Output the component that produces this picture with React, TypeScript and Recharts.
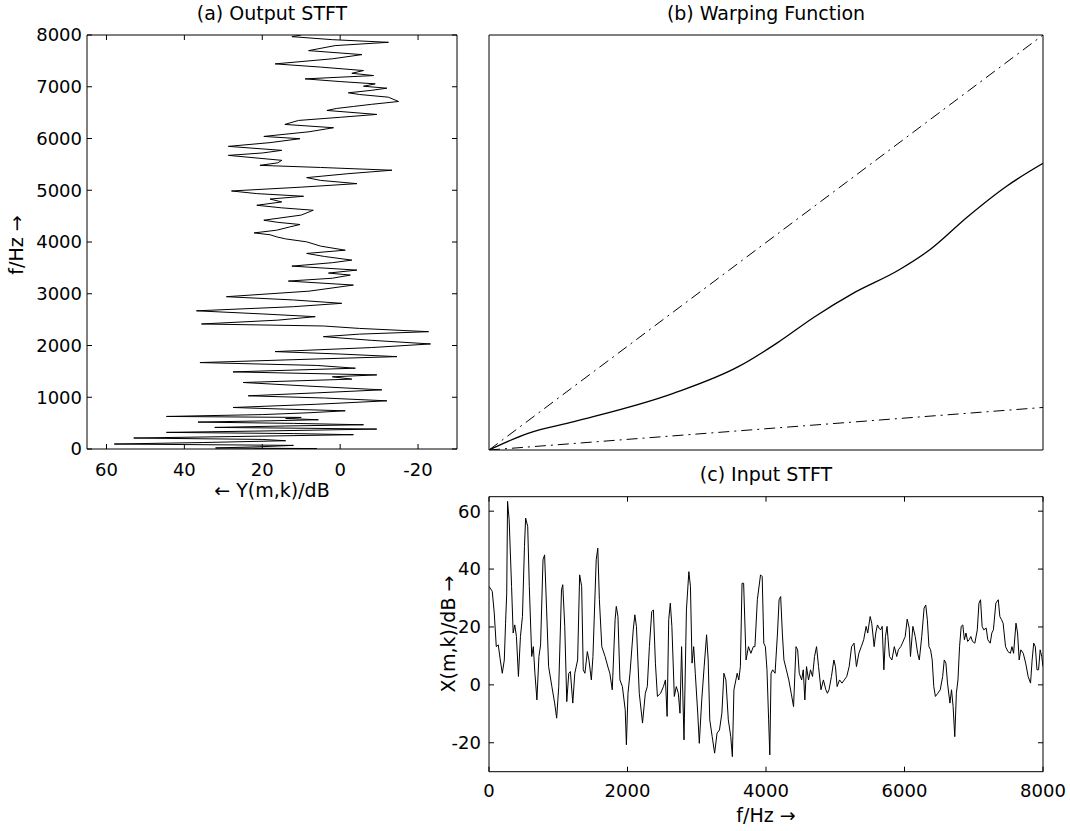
import { ScatterChart, Scatter, XAxis, YAxis } from "recharts";

// (a) output STFT: frequency (Hz) vs level (dB), drawn sideways
const outFreq = [
  0, 8, 20, 45, 70, 96, 125, 160, 185, 212, 240, 276, 298, 321, 350, 385, 400, 417, 445, 468,
  495, 520, 545, 565, 590, 610, 629, 665, 700, 738, 770, 802, 865, 931, 985, 1028, 1085, 1143,
  1215, 1285, 1350, 1395, 1432, 1490, 1561, 1615, 1670, 1735, 1785, 1835, 1882, 1960, 2030,
  2100, 2171, 2220, 2267, 2330, 2377, 2416, 2490, 2557, 2610, 2670, 2750, 2815, 2880, 2943,
  3050, 3168, 3245, 3300, 3361, 3400, 3457, 3534, 3600, 3650, 3720, 3779, 3842, 3920, 4003,
  4060, 4099, 4140, 4176, 4228, 4290, 4338, 4380, 4421, 4520, 4614, 4660, 4710, 4774, 4830,
  4884, 4935, 4986, 5060, 5128, 5190, 5244, 5320, 5387, 5440, 5481, 5530, 5578, 5674, 5720,
  5771, 5848, 5920, 5996, 6040, 6130, 6208, 6272, 6349, 6410, 6465, 6542, 6580, 6619, 6660,
  6715, 6798, 6850, 6883, 6930, 6972, 7010, 7056, 7100, 7152, 7216, 7260, 7313, 7380, 7442,
  7540, 7621, 7698, 7795, 7859, 7910, 7968, 8000,
];
const outDb = [
  22, 6, 32, 20, 12, 58, 35, 14, 20, 53, 28, -3.4, 12, 44.6, 18, -9.4, 8, 32.2, 14, -6,
  12, 36.5, 18, 5.6, 14, 10, 44.6, 20, 8, -1.3, 14, 27.5, 6, -12, 4, 23.6, 6, -10.7,
  8, 24.9, -3, 2, -9.4, 27.5, -3.9, 6, 36, 8, -14.6, 0, 16.7, -8, -23.2,
  -8, 4.3, -5, -22.7, -5, 4.3, 35.6, 16, 6.4, 20, 36.9, 12, -0.4, 12, 29.2,
  8, -3.4, 13.3, 2, -2.6, 3, -4.3, 12.4, 2, -3, 4, 8.6, -1.3, 5, 8.6,
  14, 16.3, 18, 22.1, 16.3, 13, 10.3, 16, 19.6, 10, 6.9, 15, 21.4, 15, 18,
  9.4, 21.4, 27.9, 10, -4.3, 5, 8.6, -2, -13.3, 5, 20.6, 16, 15, 28.7, 20,
  15, 28.7, 18, 10.3, 19.6, 8, 1.7, 14.2, 10.7, 0, -9.4, 3.4, 1, -3.4, -8,
  -15, -12.4, -5, -2.1, -8, -12, -6, -9, 0, 9, -8.6, -3, -6, 5, 16.7,
  2, -5.6, 8.1, 1.3, -12.4, 2, 12.4, 10,
];

// (b) warping function: input frequency -> output frequency
const warpIn = [0, 563, 1226, 2661, 3600, 4152, 4704, 5256, 5918, 6360, 6912, 7464, 8000];
const warpOut = [0, 321, 546, 1092, 1606, 2056, 2570, 3020, 3470, 3855, 4498, 5076, 5526];
const upperIn = [0, 8000];
const upperOut = [0, 8000];
const lowerIn = [0, 8000];
const lowerOut = [0, 820];

// (c) input STFT
const inFreq = [
  0, 47, 76, 105, 134, 163, 192, 221, 239, 256, 268, 291, 326, 349, 372, 396, 425, 454, 483,
  512, 529, 559, 582, 617, 640, 663, 692, 721, 745, 780, 803, 832, 861, 908, 948, 977, 1007,
  1047, 1065, 1094, 1123, 1152, 1175, 1210, 1239, 1280, 1309, 1338, 1361, 1385, 1420, 1443,
  1478, 1501, 1548, 1571, 1594, 1629, 1676, 1722, 1745, 1780, 1821, 1838, 1862, 1891, 1926,
  1967, 1984, 2007, 2036, 2083, 2106, 2129, 2170, 2217, 2257, 2286, 2316, 2350, 2374, 2403,
  2432, 2478, 2519, 2548, 2572, 2595, 2618, 2641, 2676, 2705, 2734, 2758, 2781, 2816, 2851,
  2886, 2909, 2932, 2956, 2979, 3014, 3037, 3072, 3107, 3142, 3165, 3188, 3223, 3258, 3293,
  3328, 3363, 3392, 3421, 3456, 3491, 3514, 3537, 3584, 3607, 3630, 3654, 3677, 3712, 3747,
  3782, 3817, 3840, 3875, 3921, 3945, 3968, 3991, 4014, 4038, 4055, 4073, 4096, 4131, 4166,
  4189, 4212, 4236, 4259, 4294, 4329, 4364, 4398, 4433, 4457, 4480, 4515, 4538, 4561, 4585,
  4614, 4643, 4672, 4701, 4730, 4759, 4794, 4829, 4864, 4887, 4910, 4945, 4980, 5003, 5027,
  5062, 5097, 5131, 5166, 5201, 5236, 5271, 5306, 5341, 5376, 5411, 5446, 5469, 5504, 5527,
  5562, 5585, 5609, 5632, 5655, 5678, 5702, 5725, 5748, 5783, 5818, 5853, 5888, 5911, 5946,
  5969, 6010, 6039, 6068, 6086, 6121, 6155, 6190, 6214, 6249, 6283, 6307, 6330, 6353, 6377,
  6400, 6423, 6446, 6481, 6516, 6551, 6574, 6598, 6621, 6656, 6679, 6702, 6726, 6749, 6772,
  6795, 6819, 6842, 6865, 6888, 6912, 6935, 6958, 6982, 7016, 7051, 7075, 7098, 7121, 7145,
  7180, 7203, 7238, 7261, 7284, 7319, 7354, 7377, 7401, 7424, 7459, 7494, 7529, 7552, 7575,
  7610, 7633, 7656, 7680, 7715, 7750, 7785, 7820, 7843, 7866, 7889, 7913, 7936, 7959, 7982,
  8000,
];
const inDb = [
  34, 32.3, 24.8, 13.2, 13.8, 8.6, 4, 8.6, 21.3, 31.7, 63.4, 57, 34, 17.9, 20.7, 16.7, 2.9, 16.7, 23.6,
  47.8, 57.6, 54.7, 34, 9.8, 13.2, 4, -5.2, 9.8, 13.8, 43.2, 44.9, 25.9, 6.3, -0.6, -6.3, -11.5, -0.6,
  32.8, 34.6, 20.2, -5.8, 4, 4.6, -6.3, 4, 8.6, 38, 34, 5.2, 4, 11.5, 8.6,
  1.7, 9.8, 43.2, 47.2, 29.4, 13.2, 9.8, 5.8, 4, -1.7, 22.5, 27.1, 23.6, 1.7, -0.6,
  -8.6, -20.7, -2.9, 4, 19, 24.2, 20.2, -2.9, -13.2, -2.9, -0.6, 13.2, 25.3, 25.9, 7.5,
  -4, -2.9, -0.6, 1.7, -10.9, 22.5, 28.2, 20.2, -4, -0.6, -2.9, -9.8, 13.2, -19, 25.9,
  39.1, 34, 7.5, 13.2, 4, -9.8, -20.2, -5.2, 6.3, 17.3, 8.6, -12.1, -17.9, -23.6, -16.7,
  -15.6, -9.8, 4, 1.7, -12.1, -17.9, -24.8, -1.7, 4, 1.7, 6.3, 35.1, 35.1, 8.6, 13.2,
  10.9, 13.2, 13.2, 29.4, 38, 37.4, 14.4, 13.2, 5.2, -12.1, -24.2, 4, 5.2, 4, 17.9,
  29.4, 30.5, 17.9, 8.6, 5.2, 1.7, -2.9, -7.5, 13.2, 12.1, 4, 1.7, 5.2, -5.2, 6.3,
  1.7, 5.2, 2.9, 9.8, 13.2, 6.3, -1.7, 1.7, -1.7, -2.9, -1.7, 2.9, 8.6, 6.3, -0.6,
  1.7, 0.6, 1.7, 2.9, 6.3, 13.2, 14.4, 6.3, 10.9, 13.2, 15.6, 20.2, 17.9, 23.6, 21.3,
  13.2, 17.9, 20.7, 19.6, 19, 20.2, 5.2, 16.7, 20.2, 9.8, 8.6, 13.2, 9.8, 12.1, 13.2,
  14.4, 16.7, 22.7, 19.6, 9.8, 20.2, 16.7, 10.9, 8.6, 16.7, 26.5, 27.6, 22.5, 13.2, 12.1,
  8.6, -0.6, -4, -2.9, -1.7, 2.9, 8.6, 7.5, 0.6, -6.3, -1.7, -7.5, -17.9, -2.9, 1.7,
  13.2, 20.2, 20.7, 15.6, 17.9, 15, 15.6, 16.7, 15, 14.4, 19, 28.2, 29.4, 20.2, 19,
  19.6, 15.6, 14.4, 17.9, 19, 28.2, 29.4, 23.6, 22.5, 21.3, 13.2, 11.5, 10.9, 13.2, 10.9,
  21.3, 17.9, 8.6, 12.1, 10.9, 7.5, 2.9, 0.6, 8.6, 14.4, 13.2, 5.2, 5.2, 12.1, 9.8,
  6.3,
];

const dbTicks = [60, 40, 20, 0, -20];
const outHzTicks = [0, 1000, 2000, 3000, 4000, 5000, 6000, 7000, 8000];
const inHzTicks = [0, 2000, 4000, 6000, 8000];

const outData = outFreq.map((f, i) => ({ f, db: outDb[i] }));
const inData = inFreq.map((f, i) => ({ f, db: inDb[i] }));
const warpData = warpIn.map((x, i) => ({ x, y: warpOut[i] }));
const upperData = upperIn.map((x, i) => ({ x, y: upperOut[i] }));
const lowerData = lowerIn.map((x, i) => ({ x, y: lowerOut[i] }));

const FONT = '"DejaVu Sans", sans-serif';
const frame = { stroke: "#000", strokeWidth: 1 };
const tickText = { fontSize: 18, fill: "#000", fontFamily: FONT };
const noTick = () => null;
const noShape = () => null;
const dashDot = "11 5 2 5";

function Caption({ x, y, text, rotate }: { x: number; y: number; text: string; rotate?: boolean }) {
  return (
    <div
      style={{
        position: "absolute",
        left: x,
        top: y,
        transform: `translate(-50%, -50%)${rotate ? " rotate(-90deg)" : ""}`,
        whiteSpace: "nowrap",
        fontFamily: FONT,
        fontSize: 19,
        lineHeight: "22px",
        color: "#000",
      }}
    >
      {text}
    </div>
  );
}

function OutputPanel() {
  return (
    <div style={{ position: "absolute", left: 0, top: 0 }}>
      <ScatterChart width={470} height={500} margin={{ top: 34, right: 12, bottom: 0, left: 0 }}>
        <XAxis xAxisId="b" type="number" dataKey="db" domain={[-30, 65]} reversed allowDataOverflow
          ticks={dbTicks} interval={0} height={51} tickSize={-5} tickMargin={19}
          axisLine={frame} tickLine={frame} tick={tickText} />
        <XAxis xAxisId="t" orientation="top" type="number" dataKey="db" domain={[-30, 65]} reversed allowDataOverflow
          ticks={dbTicks} interval={0} height={1} tickSize={-5} axisLine={frame} tickLine={frame} tick={noTick} />
        <YAxis yAxisId="l" type="number" dataKey="f" domain={[0, 8000]} allowDataOverflow
          ticks={outHzTicks} interval={0} width={87} tickSize={-5} tickMargin={10}
          axisLine={frame} tickLine={frame} tick={tickText} />
        <YAxis yAxisId="r" orientation="right" type="number" dataKey="f" domain={[0, 8000]} allowDataOverflow
          ticks={outHzTicks} interval={0} width={1} tickSize={-5} axisLine={frame} tickLine={frame} tick={noTick} />
        <Scatter xAxisId="b" yAxisId="l" data={outData} shape={noShape}
          line={{ stroke: "#000", strokeWidth: 1 }} isAnimationActive={false} />
      </ScatterChart>
    </div>
  );
}

function WarpPanel() {
  return (
    <div style={{ position: "absolute", left: 470, top: 0 }}>
      <ScatterChart width={600} height={470} margin={{ top: 34, right: 26, bottom: 19, left: 18 }}>
        <XAxis xAxisId="b" type="number" dataKey="x" domain={[0, 8000]} allowDataOverflow height={1}
          axisLine={frame} tickLine={false} tick={false} />
        <XAxis xAxisId="t" orientation="top" type="number" dataKey="x" domain={[0, 8000]} allowDataOverflow height={1}
          axisLine={frame} tickLine={false} tick={false} />
        <YAxis yAxisId="l" type="number" dataKey="y" domain={[0, 8000]} allowDataOverflow width={1}
          axisLine={frame} tickLine={false} tick={false} />
        <YAxis yAxisId="r" orientation="right" type="number" dataKey="y" domain={[0, 8000]} allowDataOverflow width={1}
          axisLine={frame} tickLine={false} tick={false} />
        <Scatter xAxisId="b" yAxisId="l" data={upperData} shape={noShape}
          line={{ stroke: "#000", strokeWidth: 1, strokeDasharray: dashDot }} isAnimationActive={false} />
        <Scatter xAxisId="b" yAxisId="l" data={lowerData} shape={noShape}
          line={{ stroke: "#000", strokeWidth: 1, strokeDasharray: dashDot }} isAnimationActive={false} />
        <Scatter xAxisId="b" yAxisId="l" data={warpData} shape={noShape} lineJointType="monotoneX"
          line={{ stroke: "#000", strokeWidth: 1.3 }} isAnimationActive={false} />
      </ScatterChart>
    </div>
  );
}

function InputPanel() {
  return (
    <div style={{ position: "absolute", left: 400, top: 460 }}>
      <ScatterChart width={670} height={371} margin={{ top: 35.7, right: 26, bottom: 0, left: 0 }}>
        <XAxis xAxisId="b" type="number" dataKey="f" domain={[0, 8000]} allowDataOverflow
          ticks={inHzTicks} interval={0} height={59.3} tickSize={-5} tickMargin={18}
          axisLine={frame} tickLine={frame} tick={tickText} />
        <XAxis xAxisId="t" orientation="top" type="number" dataKey="f" domain={[0, 8000]} allowDataOverflow
          ticks={inHzTicks} interval={0} height={1} tickSize={-5} axisLine={frame} tickLine={frame} tick={noTick} />
        <YAxis yAxisId="l" type="number" dataKey="db" domain={[-30, 65]} allowDataOverflow
          ticks={dbTicks} interval={0} width={89} tickSize={-5} tickMargin={13}
          axisLine={frame} tickLine={frame} tick={tickText} />
        <YAxis yAxisId="r" orientation="right" type="number" dataKey="db" domain={[-30, 65]} allowDataOverflow
          ticks={dbTicks} interval={0} width={1} tickSize={-5} axisLine={frame} tickLine={frame} tick={noTick} />
        <Scatter xAxisId="b" yAxisId="l" data={inData} shape={noShape}
          line={{ stroke: "#000", strokeWidth: 1 }} isAnimationActive={false} />
      </ScatterChart>
    </div>
  );
}

export default function App() {
  return (
    <div style={{ position: "absolute", left: 0, top: 0, width: 1070, height: 831, background: "#fff", overflow: "hidden" }}>
      <OutputPanel />
      <WarpPanel />
      <InputPanel />
      <Caption x={272} y={13} text="(a) Output STFT" />
      <Caption x={766} y={13} text="(b) Warping Function" />
      <Caption x={766} y={474} text="(c) Input STFT" />
      <Caption x={272} y={490} text="← Y(m,k)/dB" />
      <Caption x={16} y={245} text="f/Hz →" rotate />
      <Caption x={448} y={634} text="X(m,k)/dB →" rotate />
      <Caption x={766} y={815} text="f/Hz →" />
    </div>
  );
}
